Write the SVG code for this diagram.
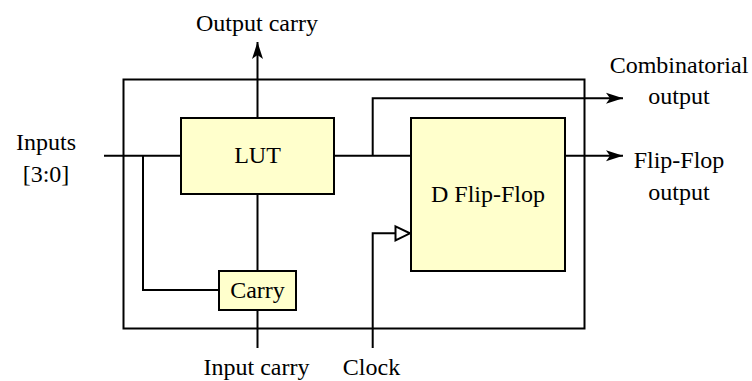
<svg xmlns="http://www.w3.org/2000/svg" width="752" height="381" viewBox="0 0 752 381">
<style>
.box{fill:#ffffcc;stroke:#000;stroke-width:2}
.ln{fill:none;stroke:#000;stroke-width:2}
text{font-family:"Liberation Serif","Times New Roman",serif;font-size:24px;fill:#000;text-anchor:middle}
</style>
<defs>
<marker id="ah" markerUnits="userSpaceOnUse" markerWidth="18" markerHeight="14" refX="17" refY="7" orient="auto">
<path d="M0,1.5 L17,7 L0,12.5 L4,7 Z" fill="#000"/>
</marker>
</defs>
<g id="outer"><rect x="123.5" y="79.5" width="461" height="249" fill="none" stroke="#000" stroke-width="2"/></g>
<g id="connectors">
<path class="ln" d="M104,155.7 H181"/>
<path class="ln" d="M143,155.7 V290 H219"/>
<path class="ln" d="M257.5,118 V42" marker-end="url(#ah)"/>
<path class="ln" d="M257.5,194 V271"/>
<path class="ln" d="M257.5,310 V348"/>
<path class="ln" d="M334,155.7 H411"/>
<path class="ln" d="M372.7,155.7 V98.3 H623" marker-end="url(#ah)"/>
<path class="ln" d="M565,155.7 H623" marker-end="url(#ah)"/>
<path class="ln" d="M372.7,348 V233.3 H395.5"/>
<path d="M395.5,226.3 L410,233.3 L395.5,240.3 Z" fill="#fff" stroke="#000" stroke-width="2"/>
</g>
<g id="lut"><rect class="box" x="181" y="118" width="153" height="76"/><text x="257.5" y="163">LUT</text></g>
<g id="carry"><rect class="box" x="219" y="271" width="77" height="39"/><text x="257.5" y="298">Carry</text></g>
<g id="dff"><rect class="box" x="411" y="118" width="154" height="153"/><text x="488" y="202">D Flip-Flop</text></g>
<g id="labels">
<text x="257" y="31">Output carry</text>
<text x="46" y="149.5">Inputs</text>
<text x="46" y="181.5">[3:0]</text>
<text x="679" y="73">Combinatorial</text>
<text x="679" y="103.5">output</text>
<text x="679" y="168">Flip-Flop</text>
<text x="679" y="199.5">output</text>
<text x="256.5" y="375">Input carry</text>
<text x="371.5" y="375">Clock</text>
</g>
</svg>
